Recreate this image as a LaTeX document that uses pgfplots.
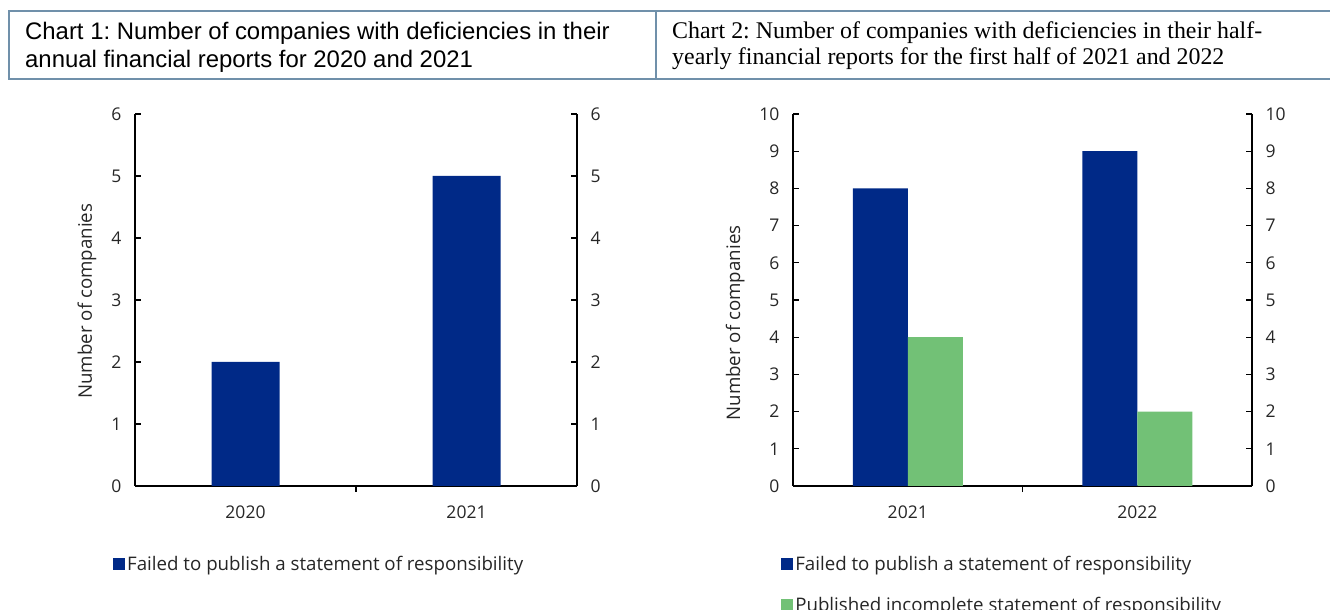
\documentclass[border=0pt]{standalone}
\usepackage{fontspec}
\setmainfont{Open Sans}
\newfontfamily\titlesans{Liberation Sans}
\newfontfamily\titleserif{Liberation Serif}
\usepackage{pgfplots}
\pgfplotsset{compat=1.18}
\frenchspacing
\definecolor{barblue}{RGB}{0,41,135}
\definecolor{bargreen}{RGB}{114,193,118}
\definecolor{boxcol}{RGB}{112,144,170}
\definecolor{txt}{RGB}{38,38,38}
\pgfplotsset{
  sqlegend/.style={legend image code/.code={\fill[##1] (0pt,-6pt) rectangle (12pt,6pt);}},
  chartbase/.style={
    scale only axis, height=372pt, anchor=south west,
    ymin=0, xmin=-0.5, xmax=1.5,
    axis line style={black, line width=1.3pt},
    tick style={black, line width=1.3pt},
    major tick length=6pt,
    tick align=inside,
    tick label style={text=txt, font=\fontsize{17.5}{21}\selectfont},
    /pgf/number format/assume math mode=true,
    legend style={draw=none, fill=none, font=\fontsize{18.7}{22}\selectfont, text=txt, cells={anchor=west}},
    legend cell align=left,
  },
  leftaxis/.style={chartbase,
    axis x line*=bottom, axis y line*=left,
    xtick={0.5}, xticklabels={},
    extra x ticks={0,1}, extra x tick style={major tick length=0pt},
    xticklabel style={yshift=-16pt},
    yticklabel style={xshift=-10pt},
  },
  rightaxis/.style={chartbase,
    axis y line*=right, axis x line=none,
    yticklabel style={xshift=10pt},
  },
}
\begin{document}
\begin{tikzpicture}
\useasboundingbox (0pt,0pt) rectangle (1330pt,610pt);
% title boxes
\draw[boxcol, line width=2.3pt] (9pt,531pt) rectangle (656pt,599pt);
\draw[boxcol, line width=2.3pt] (656pt,599pt) -- (1332pt,599pt);
\draw[boxcol, line width=2.3pt] (656pt,531pt) -- (1332pt,531pt);
\node[anchor=base west, inner sep=0pt, font=\titlesans\fontsize{23.9}{27}\selectfont] at (25pt,570pt) {Chart 1: Number of companies with deficiencies in their};
\node[anchor=base west, inner sep=0pt, font=\titlesans\fontsize{23.9}{27}\selectfont] at (25pt,542pt) {annual financial reports for 2020 and 2021};
\node[anchor=base west, inner sep=0pt, font=\titleserif\fontsize{23.9}{27}\selectfont] at (672pt,571pt) {Chart 2: Number of companies with deficiencies in their half-};
\node[anchor=base west, inner sep=0pt, font=\titleserif\fontsize{23.9}{27}\selectfont] at (672pt,545pt) {yearly financial reports for the first half of 2021 and 2022};

% Chart 1
\begin{axis}[leftaxis, at={(135pt,124pt)}, width=442pt, ymax=6, ytick={0,...,6},
  extra x tick labels={2020,2021},
  ybar, bar width=68pt,
  every axis plot post/.append style={sqlegend},
  every axis y label/.style={at={(axis description cs:-0.1086,0.497)}, anchor=center, rotate=90, text=txt, font=\fontsize{18.7}{22}\selectfont},
  ylabel={Number of companies},
  legend style={at={(axis description cs:-0.0498,-0.21)}, anchor=west, inner sep=0pt}]
\addplot[fill=barblue, draw=none] coordinates {(0,2) (1,5)};
\legend{Failed to publish a statement of responsibility}
\end{axis}
\begin{axis}[rightaxis, at={(135pt,124pt)}, width=442pt, ymax=6, ytick={0,...,6}]
\end{axis}

% Chart 2
\begin{axis}[leftaxis, at={(793pt,124pt)}, width=459pt, ymax=10, ytick={0,...,10},
  extra x tick labels={2021,2022},
  ybar=0pt, bar width=55pt,
  every axis plot post/.append style={sqlegend},
  every axis y label/.style={at={(axis description cs:-0.126,0.438)}, anchor=center, rotate=90, text=txt, font=\fontsize{18.7}{22}\selectfont},
  ylabel={Number of companies},
  legend style={at={(axis description cs:-0.026,-0.183)}, anchor=north west, inner sep=0pt, row sep=21pt}]
\addplot[fill=barblue, draw=none] coordinates {(0,8) (1,9)};
\addplot[fill=bargreen, draw=none] coordinates {(0,4) (1,2)};
\legend{Failed to publish a statement of responsibility, Published incomplete statement of responsibility}
\end{axis}
\begin{axis}[rightaxis, at={(793pt,124pt)}, width=459pt, ymax=10, ytick={0,...,10}]
\end{axis}
\end{tikzpicture}
\end{document}
